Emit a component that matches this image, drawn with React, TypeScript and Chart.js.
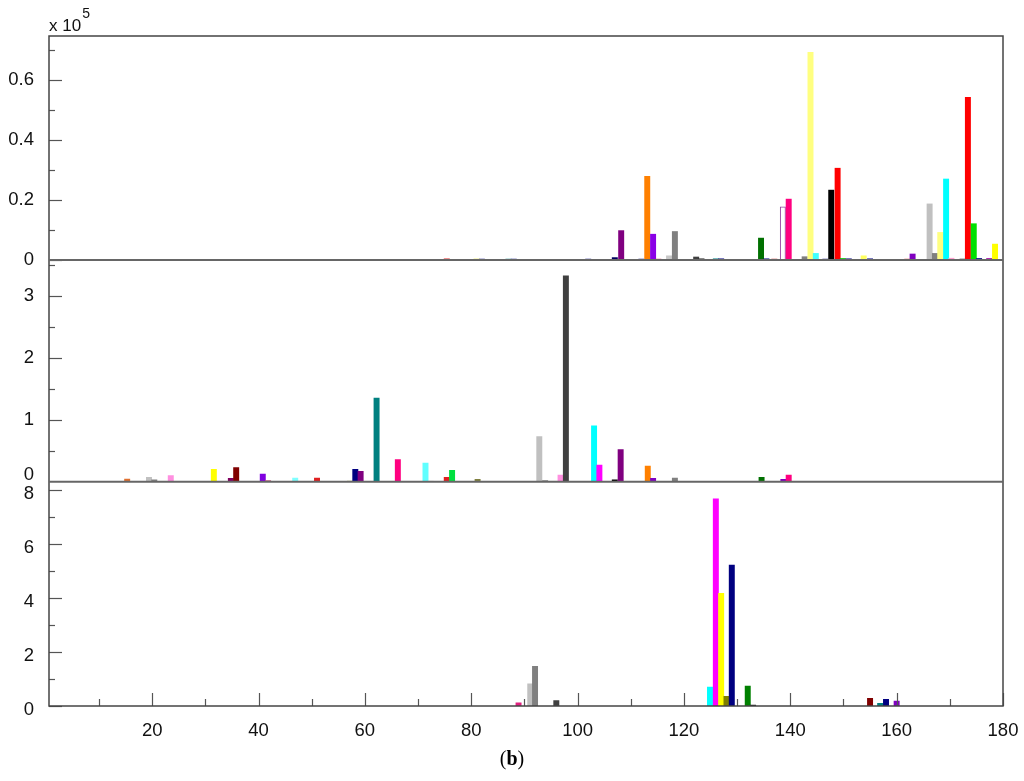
import React, { useEffect, useRef } from 'react';
import { Chart, registerables } from 'chart.js';

Chart.register(...registerables);

// ---------- data ----------
const X_MIN = 0.6;
const X_MAX = 180;
const xMajorTicks = [20, 40, 60, 80, 100, 120, 140, 160, 180];
const xMinorTicks = [10, 30, 50, 70, 90, 110, 130, 150, 170];

// top panel (x 10^5)
const topX = [75.4, 81, 82, 87, 88, 102, 107, 108.2, 112, 113.1, 114.2, 115.2, 117.2, 118.3, 122.3, 123.3, 126, 127,
  134.5, 135.5, 137, 138.6, 139.7, 142.7, 143.8, 144.8, 146.6, 147.7, 148.9, 149.9, 151, 153.8, 155,
  162, 163, 166.2, 167.2, 168.2, 169.3, 170.3, 172.4, 173.4, 174.5, 175.5, 177.4, 178.5];
const topY = [0.004, 0.003, 0.003, 0.003, 0.003, 0.003, 0.008, 0.098, 0.003, 0.279, 0.086, 0.003, 0.014, 0.095, 0.01, 0.004, 0.004, 0.004,
  0.073, 0.004, 0.003, 0.177, 0.203, 0.011, 0.692, 0.022, 0.003, 0.233, 0.306, 0.005, 0.004, 0.014, 0.004,
  0.003, 0.02, 0.187, 0.022, 0.092, 0.27, 0.006, 0.003, 0.542, 0.121, 0.005, 0.005, 0.053];
const topFill = ['#e03030', '#e0e000', '#000080', '#008080', '#000080', '#000080', '#000060', '#800080', '#000080', '#ff8000', '#8a00e6', '#e03060', '#c8c8c8', '#808080', '#404040', '#202020', '#008080', '#000080',
  '#007000', '#000080', '#c02020', '#ffffff', '#ff0080', '#808080', '#ffff80', '#40ffff', '#000080', '#000000', '#ff0000', '#00c000', '#000080', '#ffff60', '#000080',
  '#e04040', '#8000c0', '#c0c0c0', '#808080', '#ffff80', '#00ffff', '#ffa0d0', '#000000', '#ff0000', '#00e000', '#000080', '#a000a0', '#ffff00'];
const topEdge = topFill.map((c, i) => (topX[i] === 138.6 ? '#9040a0' : c));

// middle panel
const midX = [15.3, 19.4, 20.4, 23.5, 31.6, 34.8, 35.8, 40.8, 41.8, 46.9, 51, 57.2, 58.2, 59.2, 62.2, 66.2, 71.4, 72.4, 75.4, 76.4, 81.2,
  92.8, 93.9, 96.8, 97.8, 103.1, 104.1, 107, 108.1, 113.2, 114.2, 118.3, 134.6, 138.7, 139.7];
const midY = [0.044, 0.07, 0.03, 0.097, 0.2, 0.055, 0.226, 0.124, 0.02, 0.06, 0.06, 0.01, 0.2, 0.167, 1.35, 0.355, 0.3, 0.01, 0.07, 0.184, 0.04,
  0.726, 0.02, 0.108, 3.32, 0.9, 0.27, 0.03, 0.52, 0.253, 0.055, 0.06, 0.07, 0.04, 0.108];
const midFill = ['#e07030', '#c0c0c0', '#808080', '#ff90e0', '#ffff00', '#800060', '#800000', '#8000e0', '#c06080', '#80ffff', '#e02020', '#c0c080', '#000080', '#800080', '#008080', '#ff0080', '#60ffff', '#e0e0e0', '#e02020', '#00e040', '#808040',
  '#c0c0c0', '#808080', '#ff90e0', '#404040', '#00ffff', '#ff00ff', '#000000', '#800080', '#ff8000', '#8000c0', '#808080', '#007000', '#8000c0', '#ff0080'];

// bottom panel
const botX = [88.9, 91.1, 92, 96, 124.9, 126, 127, 128, 129, 132, 133, 155, 156.9, 158, 160];
const botY = [0.12, 0.82, 1.47, 0.2, 0.7, 7.68, 4.18, 0.36, 5.23, 0.74, 0.03, 0.28, 0.1, 0.25, 0.18];
const botFill = ['#e0207f', '#c0c0c0', '#808080', '#404040', '#00ffff', '#ff00ff', '#ffff00', '#808000', '#000080', '#008000', '#202020', '#800000', '#008080', '#000080', '#8000c0'];

// y ticks
const topMajor = [0, 0.2, 0.4, 0.6];
const topMinor = [0.1, 0.3, 0.5, 0.7];
const midMajor = [1, 2, 3];
const midMinor = [0.5, 1.5, 2.5, 3.5];
const botMajor = [0, 2, 4, 6, 8];
const botMinor = [1, 3, 5, 7];

const TOP_MAX = 0.7467;
const MID_MAX = 3.576;
const BOT_MAX = 8.32;

const FAMILY = '"Liberation Sans", Arial, sans-serif';
const LABEL_FONT = { family: FAMILY, size: 18.5 };

function yAxis(min: number, max: number, weight: number, major: number[], labelOffset: number) {
  return {
    type: 'linear',
    position: 'left',
    stack: 'panels',
    stackWeight: weight,
    min,
    max,
    grid: { display: false, drawTicks: false },
    border: { display: false },
    afterBuildTicks: (axis: any) => {
      axis.ticks = major.map((v) => ({ value: v }));
    },
    afterFit: (axis: any) => {
      axis.width = 49;
      axis.paddingTop = 0;
      axis.paddingBottom = 0;
    },
    ticks: {
      autoSkip: false,
      padding: 15,
      labelOffset,
      color: '#111',
      font: LABEL_FONT,
      callback: (v: number) => String(v),
    },
  };
}

const framePlugin = {
  id: 'framePlugin',
  afterDraw(chart: any) {
    const ctx = chart.ctx;
    const ca = chart.chartArea;
    const x = chart.scales.x;
    const yT = chart.scales.yTop;
    const yM = chart.scales.yMid;
    const yB = chart.scales.yBot;
    ctx.save();
    // tick marks
    ctx.strokeStyle = '#555';
    ctx.lineWidth = 1.2;
    const yTicks = (s: any, maj: number[], min: number[]) => {
      maj.forEach((v) => {
        const p = Math.round(s.getPixelForValue(v)) + 0.5;
        ctx.beginPath(); ctx.moveTo(ca.left, p); ctx.lineTo(ca.left + 13, p); ctx.stroke();
      });
      min.forEach((v) => {
        const p = Math.round(s.getPixelForValue(v)) + 0.5;
        ctx.beginPath(); ctx.moveTo(ca.left, p); ctx.lineTo(ca.left + 6, p); ctx.stroke();
      });
    };
    yTicks(yT, topMajor, topMinor);
    yTicks(yM, midMajor, midMinor);
    yTicks(yB, botMajor, botMinor);
    xMajorTicks.forEach((v) => {
      const p = Math.round(x.getPixelForValue(v)) + 0.5;
      ctx.beginPath(); ctx.moveTo(p, ca.bottom); ctx.lineTo(p, ca.bottom - 13); ctx.stroke();
    });
    xMinorTicks.forEach((v) => {
      const p = Math.round(x.getPixelForValue(v)) + 0.5;
      ctx.beginPath(); ctx.moveTo(p, ca.bottom); ctx.lineTo(p, ca.bottom - 7); ctx.stroke();
    });
    // frame
    ctx.strokeStyle = '#444';
    ctx.lineWidth = 1.5;
    ctx.strokeRect(ca.left, ca.top, ca.right - ca.left, ca.bottom - ca.top);
    // panel separators (zero lines)
    ctx.strokeStyle = '#666';
    ctx.lineWidth = 2;
    [yT.getPixelForValue(0), yM.getPixelForValue(0)].forEach((p: number) => {
      ctx.beginPath(); ctx.moveTo(ca.left, p); ctx.lineTo(ca.right, p); ctx.stroke();
    });
    // middle panel zero label (shifted up)
    ctx.fillStyle = '#111';
    ctx.font = '18.5px ' + FAMILY;
    ctx.textAlign = 'right';
    ctx.textBaseline = 'middle';
    ctx.fillText('0', ca.left - 15, yM.getPixelForValue(0) - 7);
    // exponent label
    ctx.textAlign = 'left';
    ctx.textBaseline = 'alphabetic';
    ctx.font = '17px ' + FAMILY;
    ctx.fillText('x 10', ca.left, 31);
    const w = ctx.measureText('x 10').width;
    ctx.font = '14px ' + FAMILY;
    ctx.fillText('5', ca.left + w + 1, 18);
    ctx.restore();
  },
};

function barSet(xs: number[], ys: number[], fill: string[], edge: string[], axisId: string) {
  return {
    type: 'bar',
    data: xs.map((x, i) => ({ x, y: ys[i] })),
    backgroundColor: fill,
    borderColor: edge,
    borderWidth: edge.map((c, i) => (c === fill[i] ? 0 : 1)),
    borderSkipped: false,
    yAxisID: axisId,
    xAxisID: 'x',
    grouped: false,
    barThickness: 5.3,
  };
}

export default function App() {
  const ref = useRef<HTMLCanvasElement | null>(null);
  useEffect(() => {
    if (!ref.current) return;
    const chart = new Chart(ref.current, {
      type: 'bar',
      data: {
        datasets: [
          barSet(botX, botY, botFill, botFill, 'yBot'),
          barSet(midX, midY, midFill, midFill, 'yMid'),
          barSet(topX, topY, topFill, topEdge, 'yTop'),
        ] as any,
      },
      options: {
        animation: false,
        responsive: false,
        maintainAspectRatio: false,
        devicePixelRatio: 1,
        layout: { padding: { left: 0, right: 21, top: 36, bottom: 35 } },
        plugins: { legend: { display: false }, tooltip: { enabled: false } },
        scales: {
          x: {
            type: 'linear',
            position: 'bottom',
            offset: false,
            min: X_MIN,
            max: X_MAX,
            grid: { display: false, drawTicks: false, offset: false },
            border: { display: false },
            afterBuildTicks: (axis: any) => {
              axis.ticks = xMajorTicks.map((v) => ({ value: v }));
            },
            afterFit: (axis: any) => {
              axis.height = 40;
              axis.paddingLeft = 0;
              axis.paddingRight = 0;
            },
            ticks: {
              autoSkip: false,
              maxRotation: 0,
              padding: 14,
              color: '#111',
              font: { family: FAMILY, size: 18.5 },
              callback: (v: number) => String(v),
            },
          },
          yBot: yAxis(0, BOT_MAX, 224.3, botMajor, 4),
          yMid: yAxis(0, MID_MAX, 221.7, midMajor, 0),
          yTop: yAxis(0, TOP_MAX, 224, topMajor, 0),
        } as any,
      },
      plugins: [framePlugin],
    });
    return () => chart.destroy();
  }, []);
  return (
    <div style={{ position: 'absolute', left: 0, top: 0, width: 1024, height: 781, background: '#fff' }}>
      <canvas ref={ref} width={1024} height={781} style={{ display: 'block', width: 1024, height: 781 }} />
      <div
        style={{
          position: 'absolute',
          left: 0,
          top: 747,
          width: 1024,
          textAlign: 'center',
          fontFamily: '"Liberation Serif", "Times New Roman", serif',
          fontSize: 20,
          color: '#000',
        }}
      >
        (<b>b</b>)
      </div>
    </div>
  );
}
